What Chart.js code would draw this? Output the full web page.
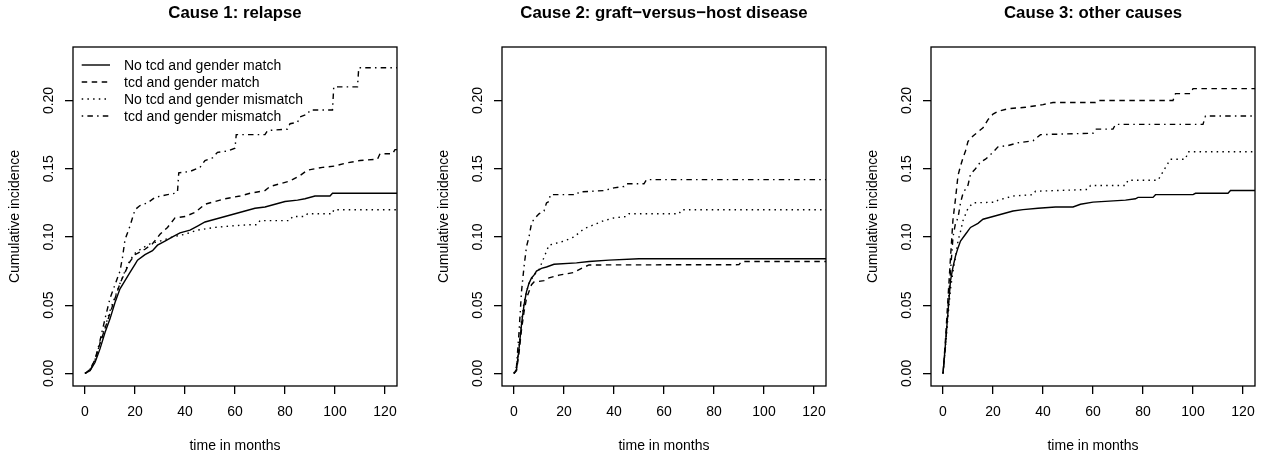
<!DOCTYPE html>
<html>
<head>
<meta charset="utf-8">
<script src="https://cdn.jsdelivr.net/npm/chart.js@4.4.1/dist/chart.umd.min.js"></script>
<style>
  html, body { margin: 0; padding: 0; background: #fff; }
  #wrap { position: relative; width: 1269px; height: 459px; overflow: hidden; }
  #wrap canvas { position: absolute; top: 0; }
</style>
</head>
<body>
<div id="wrap">
  <canvas id="c1" width="411" height="459" style="left:0px"></canvas>
  <canvas id="c2" width="411" height="459" style="left:429px"></canvas>
  <canvas id="c3" width="411" height="459" style="left:858px"></canvas>
</div>
<script>
// groupes et titres
const groups = ['No tcd and gender match', 'tcd and gender match', 'No tcd and gender mismatch', 'tcd and gender mismatch'];
const titles = ['Cause 1: relapse', 'Cause 2: graft\u2212versus\u2212host disease', 'Cause 3: other causes'];
const xTicks = [0, 20, 40, 60, 80, 100, 120];
const yTicks = [0, 0.05, 0.10, 0.15, 0.20];

// cause 1 : relapse  [mois, incidence cumulée] (deux points au même temps = saut)
const relapseNoTcdMatch = [[0,0],[2,.002],[4,.008],[6,.018],[8,.030],[10,.040],[12,.052],[14,.062],[16,.068],[18,.074],[20,.080],[21,.083],[24,.087],[27,.090],[29,.094],[32,.097],[35,.100],[38,.103],[42,.105],[45,.108],[48,.111],[52,.113],[56,.115],[60,.117],[64,.119],[68,.121],[72,.122],[76,.124],[80,.126],[85,.127],[88,.128],[92,.130],[98,.130],[99,.132],[125,.132]];
const relapseTcdMatch = [[0,0],[2,.003],[4,.010],[6,.022],[8,.033],[10,.044],[12,.055],[14,.066],[16,.074],[18,.082],[20,.087],[24,.091],[27,.095],[30,.102],[33,.107],[36,.114],[40,.115],[44,.118],[48,.124],[52,.126],[56,.128],[62,.130],[66,.132],[72,.134],[74,.137],[78,.139],[82,.141],[86,.145],[89,.149],[95,.151],[100,.152],[104,.154],[110,.156],[117,.157],[118,.161],[123,.161],[124,.164],[125,.164]];
const relapseNoTcdMismatch = [[0,0],[2,.003],[4,.010],[6,.022],[8,.034],[10,.046],[12,.056],[14,.066],[16,.075],[18,.083],[20,.088],[23,.092],[26,.095],[30,.097],[35,.100],[40,.102],[45,.105],[52,.107],[58,.108],[66,.109],[69,.109],[70,.112],[82,.112],[83,.115],[88,.115],[89,.117],[99,.117],[99.5,.120],[125,.120]];
const relapseTcdMismatch = [[0,0],[2,.002],[4,.010],[6,.024],[8,.040],[10,.055],[12,.065],[14,.075],[15,.085],[16,.098],[18,.108],[20,.120],[22,.123],[25,.125],[28,.129],[33,.131],[36,.132],[37,.133],[37.5,.147],[42,.148],[46,.151],[48,.156],[51,.158],[53,.162],[57,.163],[60,.165],[60.5,.175],[72,.175],[73,.178],[81,.179],[82,.183],[85,.184],[86,.188],[89,.190],[90,.193],[99,.193],[99.5,.210],[109,.210],[109.5,.224],[125,.224]];

// cause 2 : GVHD
const gvhdNoTcdMatch = [[0,0],[1,.003],[2,.018],[3,.036],[4,.050],[5,.060],[6,.066],[7,.070],[8,.072],[9,.075],[11,.077],[13,.078],[16,.080],[25,.081],[30,.082],[38,.083],[50,.084],[125,.084]];
const gvhdTcdMatch = [[0,0],[1,.002],[2,.015],[3,.032],[4,.045],[5,.055],[6,.060],[7,.065],[8,.067],[12,.068],[14,.070],[18,.072],[24,.074],[27,.077],[30,.0795],[90,.0797],[91,.082],[125,.082]];
const gvhdNoTcdMismatch = [[0,0],[1,.004],[2,.020],[3,.038],[4,.052],[5,.060],[6,.066],[8,.072],[10,.076],[12,.085],[14,.094],[16,.095],[20,.097],[24,.100],[28,.106],[32,.109],[36,.112],[40,.114],[45,.115],[46,.117],[66,.117],[67,.120],[125,.120]];
const gvhdTcdMismatch = [[0,0],[1,.005],[2,.030],[3,.060],[4,.078],[5,.093],[6,.100],[7,.110],[8,.113],[10,.117],[12,.119],[13,.125],[14,.126],[14.5,.131],[25,.131],[26,.133],[36,.134],[40,.136],[44,.137],[45,.139],[52,.139],[53,.142],[125,.142]];

// cause 3 : autres causes
const otherNoTcdMatch = [[0,0],[1,.022],[2,.045],[3,.068],[4,.078],[5,.086],[6,.092],[7,.097],[9,.102],[11,.107],[14,.110],[16,.113],[20,.115],[24,.117],[28,.119],[32,.120],[38,.121],[45,.122],[52,.122],[55,.124],[60,.1255],[73,.127],[77,.128],[78,.129],[84,.129],[85,.131],[100,.131],[101,.132],[114,.132],[115,.134],[125,.134]];
const otherTcdMatch = [[0,0],[1,.025],[2,.055],[3,.085],[4,.113],[5,.128],[6,.145],[7,.152],[8,.158],[9,.163],[10,.170],[12,.174],[14,.177],[16,.180],[18,.186],[20,.190],[22,.192],[26,.194],[33,.195],[40,.197],[44,.1985],[61,.1985],[62,.200],[92,.200],[93,.205],[99,.205],[100,.2087],[125,.2087]];
const otherNoTcdMismatch = [[0,0],[1,.020],[2,.042],[3,.062],[4,.075],[5,.085],[6,.097],[7,.104],[8,.112],[10,.121],[12,.125],[21,.1255],[22,.127],[28,.130],[36,.131],[37,.1335],[58,.1348],[59,.1377],[73,.1377],[74,.1416],[86,.1416],[87,.1446],[89,.151],[91,.157],[97,.157],[98,.1624],[125,.1624]];
const otherTcdMismatch = [[0,0],[1,.020],[2,.048],[3,.075],[4,.100],[5,.110],[6,.114],[7,.125],[8,.132],[10,.138],[11,.146],[13,.150],[15,.155],[17,.157],[20,.162],[22,.166],[26,.167],[30,.169],[36,.1705],[39,.175],[60,.176],[61,.179],[68,.179],[69,.1825],[104,.1825],[105,.1886],[125,.1886]];

const FONT = "'Liberation Sans', Arial, Helvetica, sans-serif";
const dashes = [[], [5.5, 4.5], [1.5, 4.2], [1.5, 4.2, 5.5, 4.2]];

// titre + cadre + légende dessinés à la main
const decor = {
  id: 'decor',
  afterDraw(chart, args, opts) {
    const { ctx, chartArea: a } = chart;
    ctx.save();
    ctx.strokeStyle = '#000';
    ctx.lineWidth = 1.3;
    ctx.setLineDash([]);
    ctx.strokeRect(a.left, a.top, a.right - a.left, a.bottom - a.top);
    ctx.fillStyle = '#000';
    ctx.font = 'bold 16.8px ' + FONT;
    ctx.textAlign = 'center';
    ctx.textBaseline = 'middle';
    ctx.fillText(opts.title, (a.left + a.right) / 2, a.top - 34);
    if (opts.legend) {
      ctx.font = '14px ' + FONT;
      ctx.textAlign = 'left';
      chart.data.datasets.forEach((ds, i) => {
        const y = a.top + 18 + i * 17;
        ctx.setLineDash(ds.borderDash);
        ctx.lineWidth = 1.4;
        ctx.beginPath();
        ctx.moveTo(a.left + 8.7, y);
        ctx.lineTo(a.left + 37, y);
        ctx.stroke();
        ctx.fillText(ds.label, a.left + 51, y + 1);
      });
    }
    ctx.restore();
  }
};

function makeChart(id, title, series, legend) {
  return new Chart(document.getElementById(id), {
    type: 'line',
    data: {
      datasets: series.map((pts, i) => ({
        label: groups[i],
        data: pts.map(p => ({ x: p[0], y: p[1] })),
        borderColor: '#000',
        borderWidth: 1.4,
        borderDash: dashes[i],
        pointRadius: 0,
        tension: 0,
        fill: false
      }))
    },
    options: {
      responsive: false,
      animation: false,
      layout: { padding: { top: 47, right: 14, left: 0, bottom: 0 } },
      plugins: {
        legend: { display: false },
        tooltip: { enabled: false },
        decor: { title: title, legend: legend }
      },
      scales: {
        x: {
          type: 'linear', min: -4.8, max: 124.8,
          afterBuildTicks: s => { s.ticks = xTicks.map(v => ({ value: v })); },
          afterFit: s => { s.height = 73; },
          border: { display: false },
          grid: { drawOnChartArea: false, drawTicks: true, tickLength: 8, color: '#000', lineWidth: 1.3 },
          ticks: { color: '#000', font: { family: FONT, size: 14 }, padding: 9.6, maxRotation: 0, autoSkip: false },
          title: { display: true, text: 'time in months', color: '#000', font: { family: FONT, size: 14 }, padding: { top: 0, bottom: 4.6 } }
        },
        y: {
          type: 'linear', min: -0.0092, max: 0.2392,
          afterBuildTicks: s => { s.ticks = yTicks.map(v => ({ value: v })); },
          afterFit: s => { s.width = 73; },
          border: { display: false },
          grid: { drawOnChartArea: false, drawTicks: true, tickLength: 8, color: '#000', lineWidth: 1.3 },
          ticks: { color: '#000', font: { family: FONT, size: 14 }, padding: 2.5, minRotation: 90, maxRotation: 90, crossAlign: 'center', autoSkip: false, callback: v => v.toFixed(2) },
          title: { display: true, text: 'Cumulative incidence', color: '#000', font: { family: FONT, size: 14 }, padding: { top: 6.6, bottom: 0 } }
        }
      }
    },
    plugins: [decor]
  });
}

makeChart('c1', titles[0], [relapseNoTcdMatch, relapseTcdMatch, relapseNoTcdMismatch, relapseTcdMismatch], true);
makeChart('c2', titles[1], [gvhdNoTcdMatch, gvhdTcdMatch, gvhdNoTcdMismatch, gvhdTcdMismatch], false);
makeChart('c3', titles[2], [otherNoTcdMatch, otherTcdMatch, otherNoTcdMismatch, otherTcdMismatch], false);
</script>
</body>
</html>
